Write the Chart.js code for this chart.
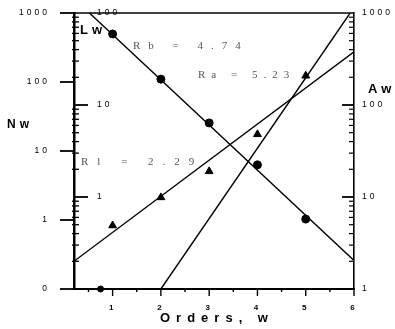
<!DOCTYPE html>
<html><head><meta charset="utf-8">
<script src="https://cdn.jsdelivr.net/npm/chart.js@4/dist/chart.umd.min.js"></script>
<style>html,body{margin:0;padding:0;background:#fff}#wrap{width:395px;height:329px}</style>
</head><body><div id="wrap"><canvas id="c" width="395" height="329"></canvas></div>
<script>
// ---- data ----
const orders = [1, 2, 3, 4, 5];
const streamNumbers = [497, 110, 25.5, 6.3, 1.03];   // Nw (circles, left outer axis)
const streamLengths = [0.49, 0.99, 1.9, 4.8, 20.8];  // Lw (triangles, left inner axis)
const strayX = [0.75], strayY = [0.1];
const nwFitX = [0.52, 6], nwFitY = [1000, 0.26];
const lwFitX = [0.2, 6], lwFitY = [0.2, 37.8];
const awFitX = [2, 5.92], awFitY = [1, 1000];
const xTicks = [0.5, 1, 1.5, 2, 2.5, 3, 3.5, 4, 4.5, 5, 5.5, 6];
const xTickLabels = ['', '1', '', '2', '', '3', '', '4', '', '5', '', '6'];
const nwTicks = [0.1, 1, 10, 100, 1000], nwTickLabels = ['0', '1', '10', '100', '1000'];
const lwTicks = [1, 10, 100], lwTickLabels = ['1', '10', '100'];
const awTicks = [1, 10, 100, 1000], awTickLabels = ['1', '10', '100', '1000'];
const ratioTexts = ['Rb = 4.74', 'Ra = 5.23', 'Rl = 2.29'];
const axisTitles = ['Nw', 'Lw', 'Aw', 'Orders, w'];

const pts = (xs, ys) => xs.map((x, i) => ({x, y: ys[i]}));
const tickSet = (vals) => (s) => { s.ticks = vals.map(v => ({value: v})); };
const lab = (vals, labels) => (v) => { const i = vals.indexOf(v); return i < 0 ? '' : labels[i]; };
const fixV = (w) => (sc) => { sc.width = w; sc.paddingTop = 0; sc.paddingBottom = 0; };

const deco = {
  id: 'deco',
  beforeDraw(chart) { chart.ctx.letterSpacing = '3px'; },
  afterDraw(chart) {
    const ctx = chart.ctx, a = chart.chartArea, s = chart.scales;
    ctx.save();
    ctx.letterSpacing = '0px';
    ctx.strokeStyle = '#000';
    // top border
    ctx.lineWidth = 1.6;
    ctx.beginPath(); ctx.moveTo(a.left, a.top); ctx.lineTo(a.right, a.top); ctx.stroke();
    // x ticks
    ctx.lineWidth = 1.4;
    xTicks.forEach((v, i) => {
      const p = s.x.getPixelForValue(v), L = xTickLabels[i] ? 7 : 3;
      ctx.beginPath(); ctx.moveTo(p, a.bottom); ctx.lineTo(p, a.bottom + L); ctx.stroke();
    });
    // Nw major ticks (outside left)
    ctx.lineWidth = 1.8;
    nwTicks.forEach(v => {
      const p = s.yN.getPixelForValue(v);
      ctx.beginPath(); ctx.moveTo(a.left - 14, p); ctx.lineTo(a.left, p); ctx.stroke();
    });
    // Lw ticks (inside left)
    for (let d = -1; d <= 1; d++) {
      for (let k = 1; k <= 9; k++) {
        const v = k * Math.pow(10, d);
        const p = s.yL.getPixelForValue(v);
        if (k === 1) {
          if (d < 0) continue;
          ctx.lineWidth = 1.8;
          ctx.beginPath(); ctx.moveTo(a.left, p); ctx.lineTo(a.left + 14, p); ctx.stroke();
        } else {
          ctx.lineWidth = 1.3;
          ctx.beginPath(); ctx.moveTo(a.left - 2, p); ctx.lineTo(a.left + 5, p); ctx.stroke();
        }
      }
    }
    // Aw ticks (inside right)
    for (let d = 0; d <= 2; d++) {
      for (let k = 1; k <= 9; k++) {
        const v = k * Math.pow(10, d);
        const p = s.yA.getPixelForValue(v);
        ctx.lineWidth = k === 1 ? 1.8 : 1.2;
        const L = k === 1 ? 12 : 5;
        ctx.beginPath(); ctx.moveTo(a.right - L, p); ctx.lineTo(a.right, p); ctx.stroke();
      }
    }
    // axis titles
    ctx.fillStyle = '#000';
    ctx.textBaseline = 'middle'; ctx.textAlign = 'left';
    ctx.font = 'bold 12px "Liberation Sans", Arial, sans-serif';
    ctx.letterSpacing = '4px';
    ctx.fillText(axisTitles[0], 7, 125);
    ctx.font = 'bold 13px "Liberation Sans", Arial, sans-serif';
    ctx.fillText(axisTitles[1], 80, 30);
    ctx.fillText(axisTitles[2], 368, 89);
    ctx.font = 'bold 13px "Liberation Sans", Arial, sans-serif';
    ctx.letterSpacing = '6px';
    ctx.fillText(axisTitles[3], 160, 318);
    // ratio annotations
    ctx.fillStyle = '#555';
    ctx.font = '11px "Liberation Serif", "DejaVu Serif", serif';
    ctx.letterSpacing = '8px';
    ctx.fillText(ratioTexts[0], 133, 46);
    ctx.letterSpacing = '6px';
    ctx.fillText(ratioTexts[1], 198, 75);
    ctx.letterSpacing = '9px';
    ctx.fillText(ratioTexts[2], 81, 162);
    ctx.restore();
  }
};

const tickFont = {family: '"Liberation Sans", Arial, sans-serif', size: 8.5};

new Chart(document.getElementById('c'), {
  data: {
    datasets: [
      {type: 'line', data: pts(nwFitX, nwFitY), yAxisID: 'yN', borderColor: '#000', borderWidth: 1.4, pointRadius: 0},
      {type: 'line', data: pts(lwFitX, lwFitY), yAxisID: 'yL', borderColor: '#000', borderWidth: 1.3, pointRadius: 0},
      {type: 'line', data: pts(awFitX, awFitY), yAxisID: 'yA', borderColor: '#000', borderWidth: 1.4, pointRadius: 0},
      {type: 'scatter', data: pts(orders, streamNumbers), yAxisID: 'yN', pointStyle: 'circle', pointRadius: 4, backgroundColor: '#000', borderColor: '#000'},
      {type: 'scatter', data: pts(orders, streamLengths), yAxisID: 'yL', pointStyle: 'triangle', pointRadius: 4.5, backgroundColor: '#000', borderColor: '#000'},
      {type: 'scatter', data: pts(strayX, strayY), yAxisID: 'yN', pointStyle: 'circle', pointRadius: 3, backgroundColor: '#000', borderColor: '#000', clip: false}
    ]
  },
  options: {
    responsive: false, animation: false, events: [],
    layout: {padding: {top: 13, left: 0, right: 0, bottom: 0}},
    plugins: {legend: {display: false}, tooltip: {enabled: false}},
    scales: {
      x: {
        type: 'linear', position: 'bottom', min: 0.2, max: 6,
        afterBuildTicks: tickSet(xTicks),
        afterFit: (sc) => { sc.height = 40; sc.paddingLeft = 0; sc.paddingRight = 0; },
        grid: {display: false, drawTicks: false},
        border: {display: true, color: '#000', width: 2},
        ticks: {autoSkip: false, maxRotation: 0, padding: 14, color: '#000', font: {family: tickFont.family, size: 8, weight: 'bold'},
          callback: (v) => { const i = xTicks.indexOf(v); return i < 0 ? '' : xTickLabels[i]; }}
      },
      yN: {
        type: 'logarithmic', position: 'left', weight: 10, min: 0.1, max: 1000,
        afterBuildTicks: tickSet(nwTicks),
        afterFit: fixV(74),
        grid: {display: false, drawTicks: false},
        border: {display: true, color: '#000', width: 2.5},
        ticks: {autoSkip: false, padding: 24, color: '#000', font: tickFont, callback: lab(nwTicks, nwTickLabels)}
      },
      yL: {
        type: 'logarithmic', position: 'left', weight: 0, min: 0.1, max: 100,
        afterBuildTicks: tickSet(lwTicks),
        afterFit: fixV(0),
        grid: {display: false, drawTicks: false},
        border: {display: false},
        ticks: {autoSkip: false, mirror: true, padding: 23, color: '#000', font: tickFont, callback: lab(lwTicks, lwTickLabels)}
      },
      yA: {
        type: 'logarithmic', position: 'right', min: 1, max: 1000,
        afterBuildTicks: tickSet(awTicks),
        afterFit: fixV(41),
        grid: {display: false, drawTicks: false},
        border: {display: true, color: '#000', width: 1.6},
        ticks: {autoSkip: false, padding: 8, color: '#000', font: tickFont, callback: lab(awTicks, awTickLabels)}
      }
    }
  },
  plugins: [deco]
});
</script></body></html>
